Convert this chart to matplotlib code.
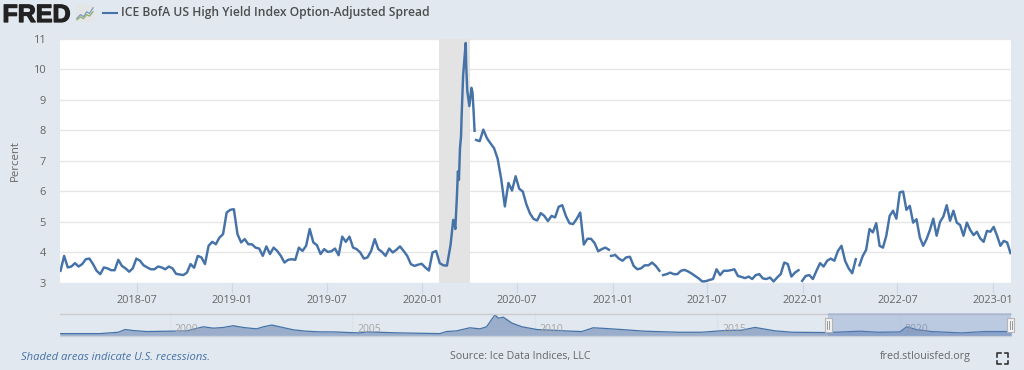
import numpy as np
import pandas as pd
import matplotlib
matplotlib.use("Agg")
import matplotlib.pyplot as plt
import matplotlib.dates as mdates
import matplotlib.patheffects as pe
from matplotlib.patches import Rectangle

# ---------- data ----------
values_2018_2020 = [
 3.40,3.89,3.51,3.54,3.65,3.54,3.62,3.78,3.80,3.62,3.40,3.29,3.51,3.48,3.42,3.42,3.76,3.56,3.48,3.37,
 3.48,3.80,3.73,3.58,3.51,3.45,3.45,3.54,3.51,3.45,3.54,3.48,3.30,3.28,3.26,3.34,3.62,3.50,3.89,3.84,
 3.62,4.22,4.35,4.27,4.49,4.60,5.31,5.40,5.42,4.60,4.33,4.44,4.27,
 4.27,4.16,4.13,3.89,4.20,3.95,4.16,4.05,3.89,3.67,3.76,3.78,3.76,4.16,4.05,4.22,4.77,4.33,4.24,3.95,
 4.11,4.02,4.04,4.13,3.91,4.52,4.35,4.52,4.16,4.11,4.00,3.80,3.84,4.05,4.44,4.11,4.02,3.89,4.13,4.00,
 4.09,4.20,4.05,3.89,3.62,3.56,3.60,3.63,3.51,3.41,4.00,4.05,3.65,3.58,3.57]
dates_spike = ['2020-02-24','2020-02-29','2020-03-02','2020-03-04','2020-03-07','2020-03-09','2020-03-11',
 '2020-03-13','2020-03-15','2020-03-16','2020-03-19','2020-03-24','2020-03-25','2020-03-27','2020-03-31',
 '2020-04-04','2020-04-06','2020-04-08','2020-04-10']
values_spike = [4.26,5.07,5.02,4.77,5.80,6.66,6.38,7.42,7.80,8.40,9.80,10.87,10.10,9.30,8.80,9.40,9.25,8.68,7.99]
values_2020 = [7.69,7.65,8.03,7.75,7.58,7.42,7.07,6.40,5.51,6.28,6.03,6.50,6.09,6.00,5.58,5.28,5.10,5.05,
 5.29,5.20,5.03,5.20,5.15,5.50,5.55,5.20,4.96,4.93,5.10,5.31,4.26,4.45,4.45,4.31,4.04,4.11,4.16,4.09]
dates_dot = ['2020-12-28','2021-01-01']
values_dot = [3.89,3.90]
values_2021a = [3.92,3.80,3.73,3.84,3.86,3.56,3.45,3.48,3.58,3.58,3.67,3.56,3.40]
values_2021b = [3.26,3.29,3.34,3.29,3.29,3.40,3.43,3.38,3.31,3.23,3.15,3.05,3.06,3.10,3.13,3.45,3.26,3.40,
 3.40,3.42,3.45,3.23,3.20,3.16,3.21,3.13,3.26,3.29,3.15,3.13,3.18,3.05,3.18,3.29,3.67,3.62,3.21,3.34,3.42]
values_2022a = [3.07,3.23,3.26,3.13,3.40,3.65,3.54,3.73,3.80,3.73,4.05,4.22,3.73,3.48,3.32,3.78]
values_2022b = [3.58,3.89,4.09,4.77,4.66,4.96,4.22,4.16,4.55,5.20,5.37,5.11,5.97,6.00,5.40,5.53,4.98,5.09,
 4.49,4.22,4.44,4.74,5.11,4.55,5.00,5.18,5.55,5.04,5.37,4.98,4.90,4.55,4.98,4.74,4.57,4.68,4.46,4.35,
 4.71,4.68,4.84,4.55,4.22,4.38,4.33,3.98]
segment_spans = [('2018-02-05','2020-02-17'),('2020-04-13','2020-12-24'),('2021-01-05','2021-03-31'),
                 ('2021-04-07','2021-12-23'),('2021-12-30','2022-04-12'),('2022-04-19','2023-02-03')]
recession = ('2020-02-01','2020-04-01')

nav_years = [1997.0,1998.1,1998.6,1998.78,1999.0,1999.37,2000.0,2000.47,2000.92,2001.2,2001.47,2001.74,2002.02,
 2002.38,2002.57,2002.8,2003.1,2003.39,2003.75,2004.12,2004.48,2004.94,2005.21,2005.39,2006.3,2007.4,2007.58,
 2007.86,2008.22,2008.5,2008.68,2008.91,2009.0,2009.14,2009.37,2009.65,2010.06,2010.47,2011.01,2011.29,2011.6,
 2011.93,2012.38,2013.02,2013.93,2014.57,2015.21,2015.67,2016.03,2016.58,2017.04,2018.0,2018.9,2019.41,2020.0,
 2020.18,2020.45,2020.86,2021.68,2022.33,2023.1]
nav_values = [2.45,2.45,3.85,6.6,5.6,4.55,4.9,5.2,9.4,8.0,8.7,10.5,8.7,7.3,9.4,11.2,8.7,6.3,4.9,4.2,4.2,3.5,3.15,
 4.2,3.15,2.45,4.55,5.25,8.4,7.3,9.4,21.7,18.2,19.2,13.3,9.4,6.6,5.9,4.9,4.55,8.4,7.7,6.6,4.9,3.85,3.85,5.6,5.95,
 8.75,5.25,3.85,3.5,4.9,3.85,4.2,9.4,6.6,4.55,3.15,4.55,4.55]
nav_ticks = [2000,2005,2010,2015,2020]
y_ticks = list(range(3,12))
x_tick_labels = ['2018-07','2019-01','2019-07','2020-01','2020-07','2021-01','2021-07','2022-01','2022-07','2023-01']
title = 'ICE BofA US High Yield Index Option-Adjusted Spread'

# ---------- style ----------
W,H = 1024,370
BG='#E1E8EF'; LINE='#4572A7'; TXT='#666666'
plt.rcParams['font.family']=['Open Sans','DejaVu Sans']
def ax_px(fig,x0,y0,x1,y1,**k):
    return fig.add_axes([x0/W,1-y1/H,(x1-x0)/W,(y1-y0)/H],**k)

fig=plt.figure(figsize=(W/100,H/100),dpi=100,facecolor=BG)
ax=ax_px(fig,60,39,1011,283,facecolor='white')

def span(s,vals):
    return pd.date_range(s[0],s[1],periods=len(vals))
parts=[(span(segment_spans[0],values_2018_2020).append(pd.to_datetime(dates_spike)),values_2018_2020+values_spike),
       (span(segment_spans[1],values_2020),values_2020),
       (pd.to_datetime(dates_dot),values_dot),
       (span(segment_spans[2],values_2021a),values_2021a),
       (span(segment_spans[3],values_2021b),values_2021b),
       (span(segment_spans[4],values_2022a),values_2022a),
       (span(segment_spans[5],values_2022b),values_2022b)]
ax.axvspan(pd.Timestamp(recession[0]),pd.Timestamp(recession[1]),color='#E3E3E3',lw=0,zorder=1)
for d,v in parts:
    ax.plot(d,v,color=LINE,lw=1.75,solid_joinstyle='round',zorder=3)
ax.set_xlim(pd.Timestamp('2018-02-04'),pd.Timestamp('2023-02-04'))
ax.set_ylim(3,11)
ax.set_yticks(y_ticks)
ax.set_xticks(pd.to_datetime([l+'-01' for l in x_tick_labels]))
ax.set_xticklabels(x_tick_labels)
ax.grid(axis='y',color='#E6E6E6',lw=1,zorder=0)
ax.set_axisbelow(True)
for s in ax.spines.values(): s.set_visible(False)
ax.tick_params(axis='x',length=7.2,width=0.8,color='#CCD6EB',labelsize=7.8,labelcolor=TXT,pad=1.5)
ax.tick_params(axis='y',length=0,labelsize=8,labelcolor=TXT,pad=10)
ax.set_ylabel('Percent',fontsize=8.2,color=TXT,labelpad=9)

# navigator
nav=ax_px(fig,60,313,1011,336)
nav.patch.set_alpha(0)
nav.fill_between(nav_years,nav_values,0,color='#9AAECB',lw=0,zorder=2)
nav.plot(nav_years,nav_values,color=LINE,lw=0.9,zorder=3)
nav.set_xlim(1997,2023.04); nav.set_ylim(0,23.5)
nav.set_yticks([]); nav.set_xticks(nav_ticks); nav.set_xticklabels([])
nav.tick_params(axis='x',length=0)
nav.grid(axis='x',color='#DCE2E8',lw=0.8,zorder=1)
for s in nav.spines.values(): s.set_visible(False)
for y in nav_ticks:
    nav.annotate(str(y),(y,0),xytext=(3.5,5),textcoords='offset points',fontsize=7.5,color='#A6A6A6',zorder=6,ha='left',va='center')
fig.add_artist(plt.Line2D([60/W,1011/W],[1-313.5/H]*2,color='#CCCCCC',lw=1))
fig.add_artist(plt.Line2D([60/W,1011/W],[1-336/H]*2,color='#C8D0DC',lw=1))
fig.add_artist(Rectangle((828/W,1-336/H),183/W,23/H,transform=fig.transFigure,color='#6685C2',alpha=0.3,lw=0,zorder=5))
for cx in (828,1010.5):
    fig.add_artist(Rectangle(((cx-3.5)/W,1-332/H),7/W,14/H,transform=fig.transFigure,facecolor='#F2F2F2',edgecolor='#B5B5B5',lw=0.8,zorder=6))
    for dx in (-1,1):
        fig.add_artist(plt.Line2D([(cx+dx)/W]*2,[1-329/H,1-321/H],color='#999999',lw=0.7,zorder=7))

# header
fig.text(2.5/W,1-22/H,'FRED',fontsize=18,fontweight='bold',family='Liberation Sans',color='#222222',ha='left',va='baseline',
         path_effects=[pe.withStroke(linewidth=0.9,foreground='#222222')])
icon=ax_px(fig,76,5,94,22,facecolor='#E4E6E6')
icon.set_xticks([]); icon.set_yticks([])
for s in icon.spines.values(): s.set_visible(False)
icon.set_xlim(0,6); icon.set_ylim(0,6)
icon.plot([0.3,1.5,2.5,3.6,4.5,5.7],[1.3,2.6,1.9,3.6,3,5],color='#7B9ABF',lw=0.9)
icon.plot([0.3,1.5,2.5,3.6,4.5,5.7],[0.8,1.8,1.2,2.6,2.1,3.6],color='#8FAE6B',lw=0.9)
fig.add_artist(plt.Line2D([103/W,117/W],[1-12.5/H]*2,color=LINE,lw=1.5))
fig.text(121/W,1-12.5/H,title,fontsize=8.75,fontweight=600,color='#4D4D4D',ha='left',va='center')

# footer
fig.text(21/W,1-357/H,'Shaded areas indicate U.S. recessions.',fontsize=8.1,style='italic',color=LINE,ha='left',va='center')
fig.text(450/W,1-357/H,'Source: Ice Data Indices, LLC',fontsize=7.65,color=TXT,ha='left',va='center')
fig.text(880/W,1-357/H,'fred.stlouisfed.org',fontsize=7.65,color=TXT,ha='left',va='center')
# fullscreen icon
x0,x1,y0,y1=997,1008,353,364; c=3.5
for xs,ys in [([x0,x0,x0+c],[y0+c,y0,y0]),([x1-c,x1,x1],[y0,y0,y0+c]),([x0,x0,x0+c],[y1-c,y1,y1]),([x1-c,x1,x1],[y1,y1,y1-c])]:
    fig.add_artist(plt.Line2D([a/W for a in xs],[1-b/H for b in ys],color='#333333',lw=1.2))

fig.savefig('out.png',dpi=100,facecolor=BG)
